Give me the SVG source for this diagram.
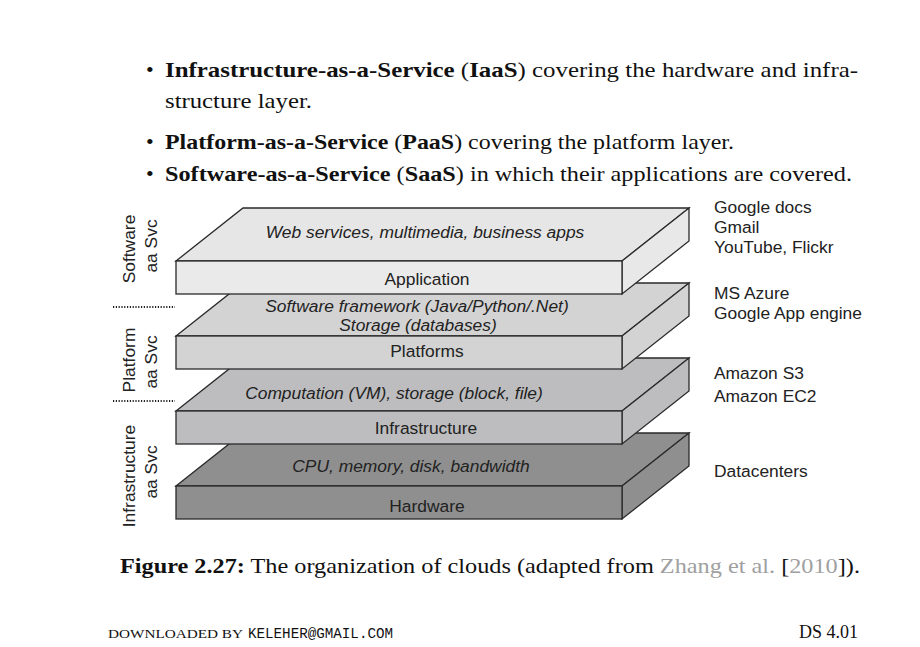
<svg xmlns="http://www.w3.org/2000/svg" width="920" height="647" viewBox="0 0 920 647">
<style>
.body{font-family:"Liberation Serif","Times New Roman",serif;font-size:22px;fill:#111}
.b{font-weight:bold}
.lbl{font-family:"Liberation Sans",Arial,sans-serif;font-size:17.4px;fill:#222}
.it{font-style:italic}
.slab{stroke:#2a2a2a;stroke-width:1.3;stroke-linejoin:miter}
.dot{stroke:#222;stroke-width:2;stroke-dasharray:1.2,1.6}
.gray{fill:#a0a0a0}
</style>
<rect width="920" height="647" fill="#fff"/>

<g id="page-text">
<text class="body" x="146" y="77">•</text>
<text class="body" x="165" y="77" textLength="693" lengthAdjust="spacingAndGlyphs"><tspan class="b">Infrastructure-as-a-Service</tspan> (<tspan class="b">IaaS</tspan>) covering the hardware and infra-</text>
<text class="body" x="165" y="108" textLength="147" lengthAdjust="spacingAndGlyphs">structure layer.</text>
<text class="body" x="146" y="149">•</text>
<text class="body" x="165" y="149" textLength="569" lengthAdjust="spacingAndGlyphs"><tspan class="b">Platform-as-a-Service</tspan> (<tspan class="b">PaaS</tspan>) covering the platform layer.</text>
<text class="body" x="146" y="181">•</text>
<text class="body" x="165" y="181" textLength="687" lengthAdjust="spacingAndGlyphs"><tspan class="b">Software-as-a-Service</tspan> (<tspan class="b">SaaS</tspan>) in which their applications are covered.</text>
</g>

<g id="layer-hardware">
<polygon class="slab" fill="#8f8f8f" points="176,486 243,433 689,433 622,486"/>
<polygon class="slab" fill="#8f8f8f" points="622,486 689,433 689,466 622,519"/>
<rect class="slab" fill="#8f8f8f" x="176" y="486" width="446" height="33"/>
<text class="lbl it" x="411" y="472" text-anchor="middle" fill="#1a1a1a">CPU, memory, disk, bandwidth</text>
<text class="lbl" x="427" y="512" text-anchor="middle">Hardware</text>
</g>

<g id="layer-infrastructure">
<polygon class="slab" fill="#bdbdbf" points="176,411 243,358 689,358 622,411"/>
<polygon class="slab" fill="#bdbdbf" points="622,411 689,358 689,391 622,444"/>
<rect class="slab" fill="#bdbdbf" x="176" y="411" width="446" height="33"/>
<text class="lbl it" x="394" y="399" text-anchor="middle">Computation (VM), storage (block, file)</text>
<text class="lbl" x="426" y="434" text-anchor="middle">Infrastructure</text>
</g>

<g id="layer-platforms">
<polygon class="slab" fill="#d3d3d3" points="176,336 243,283 689,283 622,336"/>
<polygon class="slab" fill="#d3d3d3" points="622,336 689,283 689,316 622,369"/>
<rect class="slab" fill="#d3d3d3" x="176" y="336" width="446" height="33"/>
<text class="lbl it" x="417" y="312" text-anchor="middle">Software framework (Java/Python/.Net)</text>
<text class="lbl it" x="418" y="331" text-anchor="middle">Storage (databases)</text>
<text class="lbl" x="427" y="357" text-anchor="middle">Platforms</text>
</g>

<g id="layer-application">
<polygon class="slab" fill="#e6e6e6" points="176,261 243,208 689,208 622,261"/>
<polygon class="slab" fill="#e8e8e8" points="622,261 689,208 689,241 622,294"/>
<rect class="slab" fill="#eaeaea" x="176" y="261" width="446" height="33"/>
<text class="lbl it" x="425" y="238" text-anchor="middle">Web services, multimedia, business apps</text>
<text class="lbl" x="427" y="285" text-anchor="middle">Application</text>
</g>

<g id="connectors">
<line class="dot" x1="113" y1="307" x2="175" y2="307"/>
<line class="dot" x1="113" y1="401" x2="175" y2="401"/>
</g>

<g id="side-labels">
<text class="lbl" transform="translate(135,249) rotate(-90)" text-anchor="middle">Software</text>
<text class="lbl" transform="translate(157,246) rotate(-90)" text-anchor="middle">aa Svc</text>
<text class="lbl" transform="translate(135,360) rotate(-90)" text-anchor="middle">Platform</text>
<text class="lbl" transform="translate(157,362) rotate(-90)" text-anchor="middle">aa Svc</text>
<text class="lbl" transform="translate(135,476) rotate(-90)" text-anchor="middle">Infrastructure</text>
<text class="lbl" transform="translate(157,472) rotate(-90)" text-anchor="middle">aa Svc</text>
</g>

<g id="examples">
<text class="lbl" x="714" y="213">Google docs</text>
<text class="lbl" x="714" y="233">Gmail</text>
<text class="lbl" x="714" y="253">YouTube, Flickr</text>
<text class="lbl" x="714" y="299">MS Azure</text>
<text class="lbl" x="714" y="319">Google App engine</text>
<text class="lbl" x="714" y="379">Amazon S3</text>
<text class="lbl" x="714" y="402">Amazon EC2</text>
<text class="lbl" x="714" y="477">Datacenters</text>
</g>

<g id="caption">
<text class="body" x="120" y="573" textLength="740" lengthAdjust="spacingAndGlyphs"><tspan class="b">Figure 2.27:</tspan> The organization of clouds (adapted from <tspan class="gray">Zhang et al.</tspan> [<tspan class="gray">2010</tspan>]).</text>
</g>

<g id="footer">
<text x="108" y="638" font-family="Liberation Serif, serif" font-size="12.5" fill="#111" textLength="135" lengthAdjust="spacingAndGlyphs">DOWNLOADED BY</text>
<text x="248" y="638" font-family="Liberation Mono, monospace" font-size="14" fill="#111" textLength="145" lengthAdjust="spacingAndGlyphs">KELEHER@GMAIL.COM</text>
<text x="858" y="638" font-family="Liberation Serif, serif" font-size="18" fill="#111" text-anchor="end">DS 4.01</text>
</g>
</svg>
